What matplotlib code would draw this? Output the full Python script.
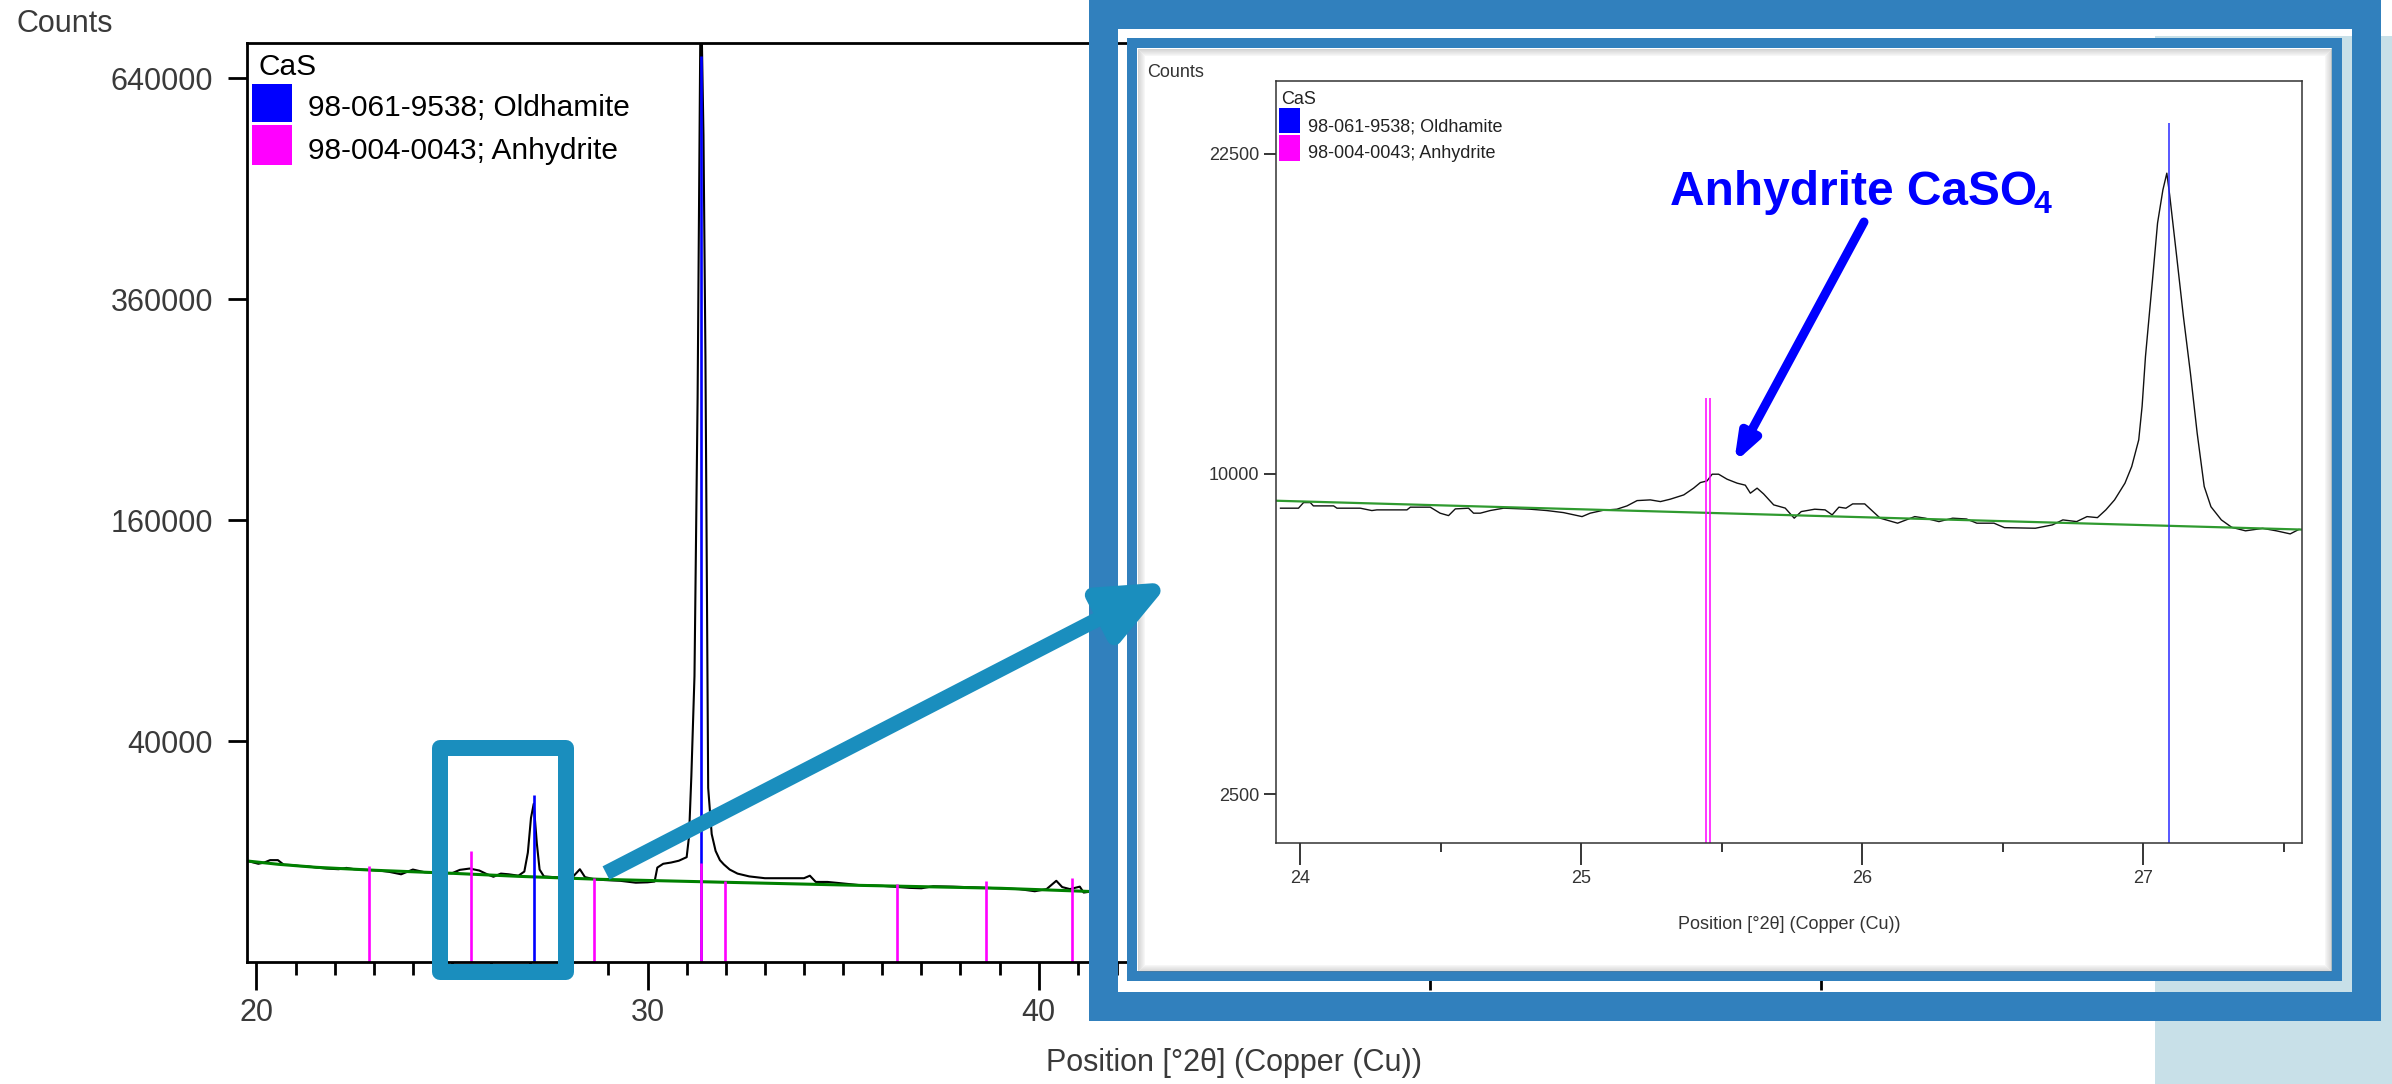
import numpy as np
import matplotlib
matplotlib.use("Agg")
import matplotlib.pyplot as plt
from matplotlib import font_manager
from matplotlib.patches import Rectangle, FancyArrowPatch, ArrowStyle
from matplotlib.ticker import MultipleLocator, NullLocator

W, H = 2392, 1084

# ---- full scan (main panel) ----
main_two_theta = [19.78, 20.05, 20.2, 20.35, 20.55, 20.7, 20.9, 21.1, 21.3, 21.55,
                  21.8, 22.1, 22.3, 22.5, 22.8, 23.1, 23.4, 23.7, 24.0, 24.3,
                  24.7, 25.0, 25.2, 25.45, 25.7, 25.9, 26.06, 26.25, 26.45, 26.7,
                  26.85, 26.94, 27.02, 27.09, 27.17, 27.24, 27.35, 27.6, 27.9, 28.1,
                  28.27, 28.4, 28.6, 28.9, 29.3, 29.7, 30.0, 30.18, 30.25, 30.4,
                  30.6, 30.8, 31.0, 31.06, 31.12, 31.2, 31.28, 31.36, 31.43, 31.48,
                  31.55, 31.64, 31.74, 31.85, 31.95, 32.1, 32.3, 32.6, 33.0, 33.5,
                  34.0, 34.15, 34.3, 34.6, 34.9, 35.4, 36.0, 36.7, 37.0, 37.3,
                  37.8, 38.4, 39.0, 39.5, 39.9, 40.2, 40.45, 40.6, 40.8, 41.05,
                  41.15, 41.4]
main_counts = [8350, 7900, 8100, 8500, 8500, 7750, 7700, 7550, 7500, 7300,
               7150, 7050, 7250, 7050, 6950, 6880, 6650, 6300, 7000, 6600,
               6500, 6450, 6950, 7150, 6850, 6300, 5950, 6400, 6300, 6100,
               6700, 9800, 17000, 20500, 11500, 7000, 6000, 5900, 5800, 6000,
               7050, 5900, 5650, 5500, 5400, 5150, 5200, 5300, 7300, 7900,
               8100, 8400, 9000, 12900, 28300, 67000, 261000, 800000, 560000, 300000,
               24800, 13400, 10100, 8500, 7800, 7000, 6400, 6000, 5750, 5750,
               5750, 6100, 5250, 5250, 5100, 4850, 4750, 4500, 4450, 4700,
               4650, 4550, 4450, 4350, 4100, 4350, 5400, 4600, 4350, 4650,
               3950, 4100]
main_bg_two_theta = [19.77, 20.56, 21.53, 23.04, 25.01, 26.68, 28.77, 32.02, 35.35, 39.03, 41.4]
main_bg_counts = [8354, 7818, 7344, 6887, 6443, 6015, 5601, 5202, 4818, 4449, 4060]

# reference patterns (stick heights as drawn, in counts)
oldhamite_pos = [27.10, 31.36]
oldhamite_main_h = [22800, 672000]
anhydrite_pos = [22.89, 25.48, 28.62, 31.36, 31.98, 36.38, 38.65, 40.85]
anhydrite_main_h = [7550, 10090, 5780, 8030, 5370, 4980, 5370, 5780]

# ---- zoomed scan (inset) ----
inset_two_theta = [23.93, 23.994, 24.012, 24.036, 24.047, 24.119, 24.131, 24.214, 24.255, 24.273,
                   24.380, 24.392, 24.463, 24.498, 24.528, 24.552, 24.599, 24.617, 24.641, 24.676,
                   24.724, 24.819, 24.878, 24.937, 25.003, 25.032, 25.080, 25.127, 25.163, 25.199,
                   25.246, 25.282, 25.317, 25.365, 25.400, 25.424, 25.448, 25.466, 25.489, 25.519,
                   25.555, 25.584, 25.602, 25.626, 25.649, 25.685, 25.726, 25.758, 25.783, 25.831,
                   25.868, 25.893, 25.917, 25.942, 25.966, 26.009, 26.064, 26.126, 26.187, 26.224,
                   26.273, 26.322, 26.371, 26.408, 26.469, 26.506, 26.616, 26.677, 26.714, 26.763,
                   26.800, 26.837, 26.867, 26.898, 26.935, 26.959, 26.984, 26.996, 27.008, 27.021,
                   27.033, 27.051, 27.070, 27.084, 27.094, 27.119, 27.143, 27.168, 27.192, 27.217,
                   27.241, 27.278, 27.315, 27.364, 27.425, 27.474, 27.523, 27.554]
inset_counts = [8957, 8957, 9124, 9124, 9025, 9025, 8957, 8957, 8887, 8907,
                8907, 8987, 8987, 8810, 8739, 8936, 8957, 8810, 8810, 8887,
                8957, 8927, 8887, 8827, 8710, 8810, 8898, 8927, 9025, 9183,
                9204, 9153, 9225, 9354, 9559, 9730, 9782, 9990, 9990, 9835,
                9712, 9650, 9406, 9559, 9385, 9055, 8960, 8664, 8857, 8927,
                8907, 8760, 8987, 8957, 9084, 9084, 8664, 8519, 8710, 8664,
                8565, 8664, 8640, 8519, 8519, 8391, 8374, 8470, 8614, 8565,
                8710, 8680, 8907, 9204, 9712, 10230, 11090, 12220, 14000, 15520,
                16980, 19370, 20840, 21600, 20620, 17950, 15520, 13390, 11310, 9610,
                9000, 8614, 8400, 8300, 8370, 8300, 8213, 8340]
inset_bg_two_theta = [23.91, 27.57]
inset_bg_counts = [9180, 8335]
inset_oldhamite_pos = [27.093]
inset_oldhamite_h = [23970]
inset_anhydrite_pos = [25.445, 25.460]
inset_anhydrite_h = [12520, 12520]

legend_title = "CaS"
legend_labels = ["98-061-9538; Oldhamite", "98-004-0043; Anhydrite"]
phase_colors = ["#0000ff", "#ff00ff"]
main_yticks = [40000, 160000, 360000, 640000]
inset_yticks = [2500, 10000, 22500]
xlabel = "Position [°2θ] (Copper (Cu))"
note = "Anhydrite CaSO"

installed = {f.name for f in font_manager.fontManager.ttflist}
SANS = "Liberation Sans" if "Liberation Sans" in installed else "DejaVu Sans"
NARROW = "Liberation Sans Narrow" if "Liberation Sans Narrow" in installed else SANS
small = 15 if NARROW != SANS else 13
plt.rcParams["font.family"] = SANS

PT = 0.72  # points per pixel at dpi 100


def sqrt_fwd(v):
    return np.sqrt(np.clip(v, 0, None))


def sqrt_inv(v):
    return np.square(v)


def box(left, top, right, bottom):
    return [left / W, 1 - bottom / H, (right - left) / W, (bottom - top) / H]


def overlay(z):
    a = fig.add_axes([0, 0, 1, 1], zorder=z)
    a.set_xlim(0, W)
    a.set_ylim(H, 0)
    a.axis("off")
    return a


fig = plt.figure(figsize=(W / 100, H / 100), dpi=100)

# ---------------- main pattern ----------------
ax = fig.add_axes(box(247, 43, 2220, 962), zorder=0)
ax.plot(main_two_theta, main_counts, color="black", lw=1.5)
ax.plot(main_bg_two_theta, main_bg_counts, color="#008000", lw=2.2)
ax.vlines(oldhamite_pos, 0, oldhamite_main_h, color=phase_colors[0], lw=1.9)
ax.vlines(anhydrite_pos, 0, anhydrite_main_h, color=phase_colors[1], lw=1.9)
ax.set_yscale("function", functions=(sqrt_fwd, sqrt_inv))
ax.set_xlim(19.76, 70.2)
ax.set_ylim(0, 691700)
ax.xaxis.set_major_locator(MultipleLocator(10))
ax.xaxis.set_minor_locator(MultipleLocator(1))
ax.set_yticks(main_yticks)
ax.set_yticklabels([str(v) for v in main_yticks])
ax.yaxis.set_minor_locator(NullLocator())
ax.tick_params(axis="x", which="major", length=20, width=2, pad=6, labelsize=22, labelcolor="#3a3a3a")
ax.tick_params(axis="x", which="minor", length=9, width=2)
ax.tick_params(axis="y", which="major", length=13.5, width=2, pad=11, labelsize=22, labelcolor="#3a3a3a")
for s in ax.spines.values():
    s.set_linewidth(2)
ax.set_xlabel(xlabel, fontsize=22, color="#3a3a3a")
ax.xaxis.set_label_coords(0.5, (962 - 1063) / 919)
ax.xaxis.label.set_va("center")

# ---------------- frame, panel, main legend ----------------
under = overlay(1)
under.add_patch(Rectangle((2155, 36), W - 2155, H - 36, fc="#c8e0e8", ec="none"))
under.add_patch(Rectangle((1102.5, 14.3), 2365.5 - 1102.5, 1005.5 - 14.3, fill=False,
                          ec="#3180bd", lw=29 * PT, joinstyle="miter"))
under.add_patch(Rectangle((1132.3, 42.8), 2336.5 - 1132.3, 975.7 - 42.8, fill=False,
                          ec="#3180bd", lw=10 * PT, joinstyle="miter"))
under.add_patch(Rectangle((1137, 48), 2331 - 1137, 971 - 48, fc="white", ec="none"))
for i in range(7):
    under.add_patch(Rectangle((1137.5 + i, 48.5 + i), 2331 - 1138 - 2 * i, 971 - 49 - 2 * i,
                              fill=False, ec="#707070", alpha=0.30 - i * 0.04, lw=1 * PT))

under.text(16, 32, "Counts", fontsize=22, color="#3a3a3a", va="baseline")
under.text(259, 75, legend_title, fontsize=21.5, va="baseline")
under.add_patch(Rectangle((252, 83.5), 40, 38.5, fc=phase_colors[0], ec="none"))
under.add_patch(Rectangle((252, 125), 40, 40, fc=phase_colors[1], ec="none"))
under.text(308, 116, legend_labels[0], fontsize=21.5, va="baseline")
under.text(308, 159, legend_labels[1], fontsize=21.5, va="baseline")

# ---------------- inset (zoom 24-27.5 deg) ----------------
ai = fig.add_axes(box(1276, 81.4, 2302, 843.4), zorder=2)
ai.plot(inset_two_theta, inset_counts, color="#111111", lw=1.0)
ai.plot(inset_bg_two_theta, inset_bg_counts, color="#2f9a2f", lw=1.6)
ai.vlines(inset_anhydrite_pos, 0, inset_anhydrite_h, color=phase_colors[1], lw=1.1)
ai.vlines(inset_oldhamite_pos, 0, inset_oldhamite_h, color="#2a2aff", lw=1.1)
ai.set_yscale("function", functions=(sqrt_fwd, sqrt_inv))
ai.set_xlim(23.914, 27.565)
ai.set_ylim(1788, 26018)
ai.xaxis.set_major_locator(MultipleLocator(1))
ai.xaxis.set_minor_locator(MultipleLocator(0.5))
ai.set_yticks(inset_yticks)
ai.set_yticklabels([str(v) for v in inset_yticks])
ai.yaxis.set_minor_locator(NullLocator())
ai.tick_params(axis="x", which="major", length=15.5, width=1.1, pad=3.5,
               labelsize=small, labelcolor="#333333", labelfontfamily=NARROW)
ai.tick_params(axis="x", which="minor", length=6.2, width=1.1)
ai.tick_params(axis="y", which="major", length=8.5, width=1.1, pad=3.5,
               labelsize=small, labelcolor="#333333", labelfontfamily=NARROW)
for s in ai.spines.values():
    s.set_linewidth(1.1)
    s.set_color("#333333")
ai.set_xlabel(xlabel, fontsize=small, color="#333333", family=NARROW)
ai.xaxis.set_label_coords(0.5, (843.4 - 924.6) / 762)
ai.xaxis.label.set_va("center")

# ---------------- callouts on top ----------------
over = overlay(3)
over.text(1147, 76.8, "Counts", fontsize=small, color="#333333", family=NARROW, va="baseline")
over.text(1281, 103.6, legend_title, fontsize=small, color="#222222", family=NARROW, va="baseline")
over.add_patch(Rectangle((1279, 108), 21, 25, fc=phase_colors[0], ec="none"))
over.add_patch(Rectangle((1279, 135), 21, 26, fc=phase_colors[1], ec="none"))
over.text(1308.5, 131, legend_labels[0], fontsize=small, color="#222222", family=NARROW, va="baseline")
over.text(1308.5, 157.5, legend_labels[1], fontsize=small, color="#222222", family=NARROW, va="baseline")

teal = "#1a8ebe"
over.add_patch(Rectangle((440, 748), 126, 223.5, fill=False, ec=teal, lw=16 * PT, joinstyle="round"))
over.add_patch(FancyArrowPatch((606, 873), (1170, 582),
                               arrowstyle=ArrowStyle("-|>", head_length=56 * PT, head_width=24 * PT),
                               mutation_scale=1, shrinkA=0, shrinkB=0, color=teal,
                               lw=15 * PT, capstyle="butt", joinstyle="round"))

over.text(1670, 205, note, fontsize=34.5, fontweight="bold", color="#0000ff", va="baseline")
over.text(2033, 213, "4", fontsize=23, fontweight="bold", color="#0000ff", va="baseline")
over.add_patch(FancyArrowPatch((1864, 222), (1734, 463),
                               arrowstyle=ArrowStyle("-|>", head_length=22 * PT, head_width=8 * PT),
                               mutation_scale=1, shrinkA=0, shrinkB=0, color="#0000ff",
                               lw=9 * PT, capstyle="round", joinstyle="round"))

fig.savefig("out.png", dpi=100)
